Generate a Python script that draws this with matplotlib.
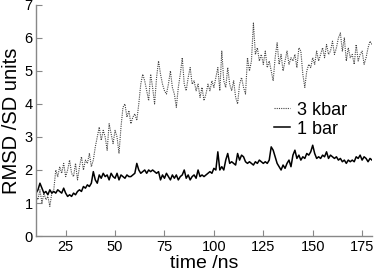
import numpy as np
import matplotlib
matplotlib.use("Agg")
import matplotlib.pyplot as plt

plt.rcParams['font.family'] = ['Liberation Sans', 'DejaVu Sans']

# time axis, 1 ns steps
time_ns = list(range(10, 181))

rmsd_3kbar = [
    1.2, 1.1, 1.4, 1.0, 1.3, 1.1, 1.2, 0.9, 1.3, 1.4,
    2.0, 1.8, 2.1, 1.9, 2.2, 1.8, 2.0, 2.3, 1.9, 1.8,
    2.2, 1.7, 2.1, 2.4, 2.0, 2.3, 2.2, 2.5, 2.1, 2.3,
    2.7, 3.0, 3.3, 2.9, 3.2, 3.0, 2.6, 3.4, 3.1, 2.8,
    3.2, 3.0, 2.5, 3.3, 3.9, 4.0, 3.6, 3.8, 3.4, 3.6,
    3.7, 3.5, 4.0, 4.6, 4.9, 4.7, 4.4, 4.1, 4.9, 4.5,
    4.0, 4.8, 5.3, 4.9, 4.6, 4.4, 4.3, 4.6, 5.0, 4.5,
    4.3, 3.9, 4.5, 4.9, 5.4, 4.6, 4.4, 4.8, 5.1, 4.6,
    4.7, 4.4, 4.6, 4.2, 4.5, 4.1, 4.3, 4.6, 4.4, 4.7,
    4.5, 4.8, 5.1, 4.4, 5.6, 4.7, 4.5, 5.1, 4.6, 4.4,
    4.7, 4.2, 4.0, 4.6, 4.8, 4.5, 4.3, 5.4, 5.0, 5.3,
    6.45, 5.5, 5.7, 5.3, 5.5, 5.2, 5.6, 5.1, 5.3, 5.0,
    4.7, 5.4, 5.85, 5.2, 5.5, 5.0, 5.3, 5.6, 5.2, 5.4,
    5.3, 5.5, 5.1, 5.7, 5.6, 4.9, 4.5, 5.0, 5.2, 5.1,
    5.4, 5.2, 5.6, 5.3, 5.5, 5.7, 5.4, 5.8, 5.5, 5.6,
    5.9, 5.5, 5.7, 6.0, 6.15, 5.6, 6.0, 5.3, 5.7, 5.4,
    5.5, 5.2, 5.8, 5.3, 5.5, 5.6, 5.2, 5.4, 5.7, 5.9,
    5.8,
]

rmsd_1bar = [
    1.30, 1.40, 1.60, 1.45, 1.30, 1.35, 1.25, 1.40, 1.30, 1.35,
    1.30, 1.40, 1.35, 1.30, 1.45, 1.30, 1.20, 1.25, 1.20, 1.30,
    1.25, 1.35, 1.40, 1.35, 1.50, 1.45, 1.55, 1.50, 1.60, 1.95,
    1.70, 1.60, 1.85, 1.75, 1.90, 1.80, 1.85, 1.70, 1.90, 1.80,
    1.75, 1.90, 1.70, 1.85, 1.80, 1.75, 1.85, 1.80, 1.80, 1.85,
    1.90, 2.20, 2.00, 1.90, 1.95, 2.00, 1.90, 2.00, 1.95, 2.00,
    1.95, 1.90, 1.95, 1.70, 1.85, 1.75, 1.90, 1.80, 1.70, 1.85,
    1.75, 1.85, 1.70, 1.80, 1.85, 2.00, 1.75, 1.85, 1.70, 1.80,
    1.85, 1.75, 2.00, 1.80, 1.85, 1.80, 1.85, 1.90, 1.95, 1.90,
    2.05, 2.00, 2.55, 2.00, 2.10, 2.00, 2.30, 2.50, 2.20, 2.25,
    2.20, 2.15, 2.50, 2.30, 2.45, 2.40, 2.25, 2.20, 2.25, 2.20,
    2.15, 2.25, 2.20, 2.30, 2.25, 2.20, 2.25, 2.20, 2.30, 2.70,
    2.60, 2.40, 2.20, 2.10, 2.00, 2.15, 2.05, 2.20, 2.30, 2.10,
    2.45, 2.60, 2.35, 2.45, 2.30, 2.40, 2.35, 2.50, 2.45, 2.55,
    2.75, 2.50, 2.35, 2.40, 2.35, 2.45, 2.40, 2.55, 2.35, 2.45,
    2.40, 2.35, 2.40, 2.30, 2.35, 2.25, 2.30, 2.20, 2.30, 2.25,
    2.30, 2.25, 2.40, 2.35, 2.45, 2.30, 2.40, 2.35, 2.25, 2.35,
    2.30,
]

x_ticks = [25, 50, 75, 100, 125, 150, 175]
y_ticks = [0, 1, 2, 3, 4, 5, 6, 7]

fig = plt.figure(figsize=(3.75, 2.71), dpi=100)
ax = fig.add_axes([0.096, 0.129, 0.896, 0.853])

ax.plot(time_ns, rmsd_3kbar, linestyle=(0, (1, 1)), color="#444444",
        linewidth=0.8, label="3 kbar")
ax.plot(time_ns, rmsd_1bar, linestyle="-", color="black", linewidth=1.1, label="1 bar")

ax.set_xlim(10, 180)
ax.set_ylim(0, 7)
ax.set_xticks(x_ticks)
ax.set_yticks(y_ticks)

for side in ("top", "right"):
    ax.spines[side].set_visible(False)
for side in ("left", "bottom"):
    ax.spines[side].set_color("#888888")
    ax.spines[side].set_linewidth(1.0)
ax.tick_params(direction="in", length=4, color="#888888", labelsize=10.5, pad=2.5)

ax.set_xlabel("time /ns", fontsize=14, labelpad=1)
ax.set_ylabel("RMSD /SD units", fontsize=14.5, labelpad=2)

ax.legend(loc="upper left", bbox_to_anchor=(0.68, 0.62), frameon=False,
          fontsize=13, handlelength=0.9, handletextpad=0.4,
          labelspacing=0.1, borderpad=0)

fig.savefig("out.png", dpi=100)
